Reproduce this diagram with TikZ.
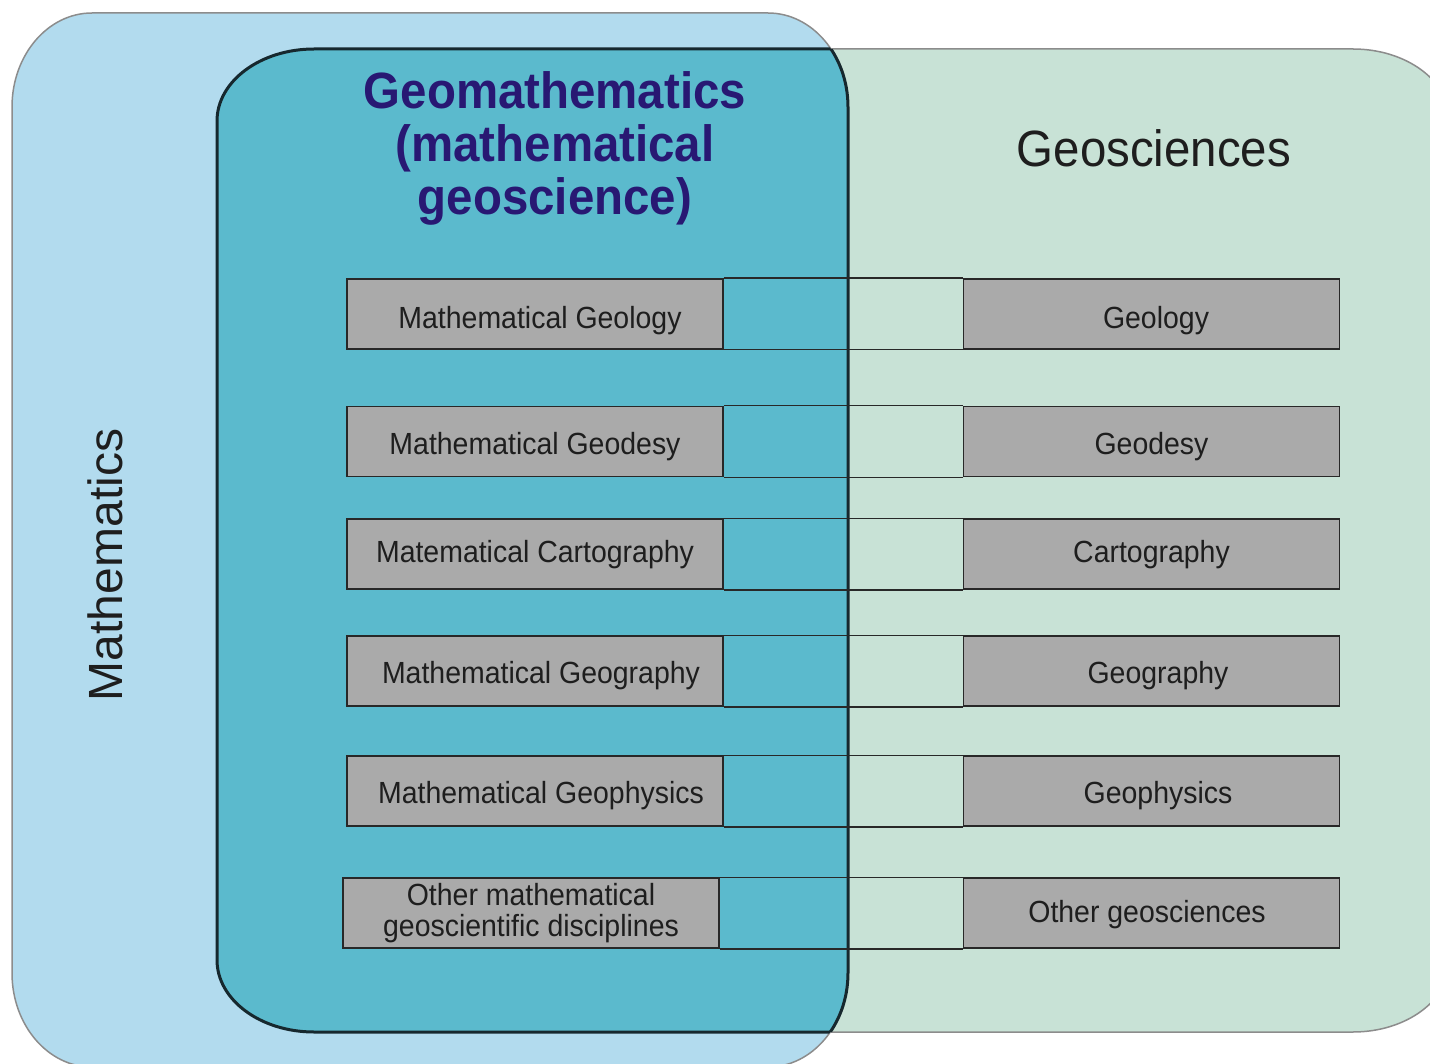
\documentclass[tikz,border=0pt]{standalone}
\usepackage{fontspec}
\setmainfont{Liberation Sans}[FakeStretch=0.93]
\newfontfamily\plainsans{Liberation Sans}
\definecolor{mathblue}{RGB}{178,219,238}
\definecolor{geogreen}{RGB}{200,226,214}
\definecolor{overlapteal}{RGB}{91,186,205}
\definecolor{outergrey}{RGB}{140,140,140}
\definecolor{tealline}{RGB}{22,40,46}
\definecolor{boxgrey}{RGB}{170,170,170}
\definecolor{boxline}{RGB}{40,40,40}
\definecolor{textdark}{RGB}{30,30,30}
\definecolor{titleblue}{RGB}{40,24,115}
\newcommand\rrpath[6]{({#1+#5},{-(#2)}) -- ({#3-#5},{-(#2)}) arc[start angle=90,end angle=0,x radius=#5,y radius=#6] -- ({#3},{-(#4)+#6}) arc[start angle=0,end angle=-90,x radius=#5,y radius=#6] -- ({#1+#5},{-(#4)}) arc[start angle=270,end angle=180,x radius=#5,y radius=#6] -- ({#1},{-(#2)-#6}) arc[start angle=180,end angle=90,x radius=#5,y radius=#6] -- cycle}
% shift text right (#1>0) inside a centred node
\newcommand\rsh[2]{\hspace*{#1pt}#2}
\newcommand\lsh[2]{#2\hspace*{#1pt}}
\tikzset{
  gbox/.style={draw=boxline, fill=boxgrey, line width=1.5, minimum width=376, minimum height=70, inner sep=0, text=textdark, font=\fontsize{30.6}{31}\selectfont, text height=29, text depth=0},
  th/.style={text height=#1},
  gboxtwo/.style={gbox, align=center, text height=, text depth=},
  rowline/.style={draw=boxline, line width=1.5},
}
\begin{document}
\begin{tikzpicture}[x=1pt,y=1pt]
\useasboundingbox (0,0) rectangle (1430,-1064);
\clip (0,0) rectangle (1430,-1064);
\fill[white] (0,0) rectangle (1430,-1064);
% Mathematics set
\path[fill=mathblue, draw=outergrey, line width=1.5] \rrpath{12}{13}{848}{1067}{80}{94};
% Geosciences set
\path[fill=geogreen, draw=outergrey, line width=1.5] \rrpath{217}{49}{1450}{1032}{97}{72};
% overlap
\begin{scope}
  \clip \rrpath{12}{13}{848}{1067}{80}{94};
  \fill[overlapteal] \rrpath{217}{49}{1450}{1032}{97}{72};
  \draw[tealline, line width=3] \rrpath{217}{49}{1450}{1032}{97}{72};
\end{scope}
\begin{scope}
  \clip \rrpath{217}{49}{1450}{1032}{97}{72};
  \draw[tealline, line width=3] \rrpath{12}{13}{848}{1067}{80}{94};
\end{scope}
% labels
\node[text=titleblue, font=\bfseries\fontsize{51}{53}\selectfont, align=center] (title) at (555,-148) {Geomathematics\\(mathematical\\geoscience)};
\node[anchor=base, text=textdark, font=\fontsize{51}{55}\selectfont] (geo) at (1154,-167) {Geosciences};
\node[rotate=90, anchor=base, text=textdark, font=\plainsans\fontsize{48}{50}\selectfont] (math) at (122,-565) {Mathematics};
% rows
\node[gbox] (l1) at (535,-314) {\rsh{10}{Mathematical Geology}};
\node[gbox] (r1) at (1151.5,-314) {\rsh{9}{Geology}};
\node[gbox, th=26.6] (l2) at (535,-441.5) {Mathematical Geodesy};
\node[gbox, th=26.6] (r2) at (1151.5,-441.5) {Geodesy};
\node[gbox, th=16] (l3) at (535,-554) {Matematical Cartography};
\node[gbox, th=16] (r3) at (1151.5,-554) {Cartography};
\node[gbox, th=25.6] (l4) at (535,-671) {\rsh{12}{Mathematical Geography}};
\node[gbox, th=25.6] (r4) at (1151.5,-671) {\rsh{13}{Geography}};
\node[gbox, th=25.6] (l5) at (535,-791) {\rsh{12}{Mathematical Geophysics}};
\node[gbox, th=25.6] (r5) at (1151.5,-791) {\rsh{13}{Geophysics}};
\node[gboxtwo] (l6) at (531,-913) {Other mathematical\\geoscientific disciplines};
\node[gbox, th=19.6] (r6) at (1151.5,-913) {\lsh{9}{Other geosciences}};
\foreach \i in {1,...,6}{
  \draw[rowline] (l\i.north east) -- (r\i.north west);
  \draw[rowline] (l\i.south east) -- (r\i.south west);
}
\end{tikzpicture}
\end{document}
